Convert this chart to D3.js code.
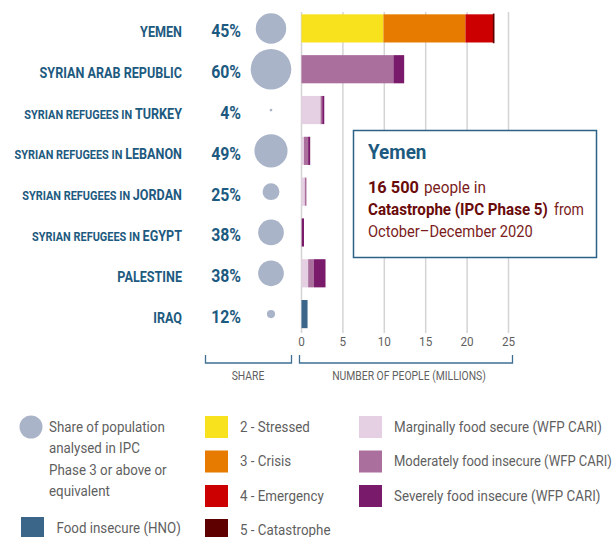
<!DOCTYPE html>
<html>
<head>
<meta charset="utf-8">
<script src="https://cdn.jsdelivr.net/npm/d3@7"></script>
<style>
  html, body { margin: 0; padding: 0; background: #fff; }
  svg { display: block; }
  text { font-family: "Roboto", "Noto Sans", sans-serif; }
</style>
</head>
<body>
<svg id="chart" width="614" height="537"></svg>
<script>
// Row labels: a smaller prefix and the emphasised place name
const categories = ["Yemen", "Syrian Arab Republic", "Syrian refugees in Turkey", "Syrian refugees in Lebanon",
  "Syrian refugees in Jordan", "Syrian refugees in Egypt", "Palestine", "Iraq"];
const labelPrefix = ["", "", "SYRIAN REFUGEES IN ", "SYRIAN REFUGEES IN ", "SYRIAN REFUGEES IN ", "SYRIAN REFUGEES IN ", "", ""];
const labelName = ["YEMEN", "SYRIAN ARAB REPUBLIC", "TURKEY", "LEBANON", "JORDAN", "EGYPT", "PALESTINE", "IRAQ"];

// Share of analysed population in IPC Phase 3+ or equivalent (%)
const shares = [45, 60, 4, 49, 25, 38, 38, 12];

// Number of people (millions) by classification
const ipcStressed    = [9.9, 0, 0, 0, 0, 0, 0, 0];
const ipcCrisis      = [9.9, 0, 0, 0, 0, 0, 0, 0];
const ipcEmergency   = [3.4, 0, 0, 0, 0, 0, 0, 0];
const ipcCatastrophe = [0.0165, 0, 0, 0, 0, 0, 0, 0];
const cariMarginal   = [0, 0, 2.3, 0.3, 0.4, 0, 0.8, 0];
const cariModerate   = [0, 11.1, 0.2, 0.5, 0.2, 0.05, 0.7, 0];
const cariSevere     = [0, 1.3, 0.25, 0.25, 0, 0.25, 1.4, 0];
const hnoInsecure    = [0, 0, 0, 0, 0, 0, 0, 0.73];

const xTicks = [0, 5, 10, 15, 20, 25];

const seriesDefs = [
  { key: "stressed", values: ipcStressed, color: "#f8e21e", label: "2 - Stressed" },
  { key: "crisis", values: ipcCrisis, color: "#e77b00", label: "3 - Crisis" },
  { key: "emergency", values: ipcEmergency, color: "#cc0000", label: "4 - Emergency" },
  { key: "catastrophe", values: ipcCatastrophe, color: "#5e0000", label: "5 - Catastrophe" },
  { key: "marginal", values: cariMarginal, color: "#e5cfe2", label: "Marginally food secure (WFP CARI)" },
  { key: "moderate", values: cariModerate, color: "#ab6f9e", label: "Moderately food insecure (WFP CARI)" },
  { key: "severe", values: cariSevere, color: "#7a1a6a", label: "Severely food insecure (WFP CARI)" },
  { key: "hno", values: hnoInsecure, color: "#3c658a", label: "Food insecure (HNO)" }
];

const rows = categories.map((c, i) => {
  const r = { category: c };
  seriesDefs.forEach(s => { r[s.key] = s.values[i]; });
  return r;
});

const BLUE = "#1d5a80";
const GREY_TEXT = "#5f5f5f";
const BUBBLE = "#aab4c8";
const RED_TEXT = "#7a1c1c";
const RED_BOLD = "#6a0b0b";

// Narrow a text horizontally around its anchor point (condensed look)
const condense = (sel, k) => sel.attr("transform", function () {
  const ax = +d3.select(this).attr("x");
  return `translate(${ax},0) scale(${k},1) translate(${-ax},0)`;
});

// Scale a left-anchored text horizontally so that it spans a given width
const fitWidth = (sel) => sel.attr("transform", function (d) {
  const ax = +d3.select(this).attr("x");
  const k = d.w / this.getComputedTextLength();
  return `translate(${ax},0) scale(${k},1) translate(${-ax},0)`;
});

const svg = d3.select("#chart");
const W = +svg.attr("width");

const y = d3.scaleBand().domain(categories).range([8, 334.5]).paddingInner(0.31).paddingOuter(0.155);
const x = d3.scaleLinear().domain([0, 25]).range([301.5, 508.5]);
const r = d3.scaleLinear().domain([0, 60]).range([0, 20.3]);
const yMid = c => y(c) + y.bandwidth() / 2;

// Vertical grid
svg.append("g").selectAll("line").data(xTicks).join("line")
  .attr("x1", d => x(d)).attr("x2", d => x(d))
  .attr("y1", 12).attr("y2", 333)
  .attr("stroke", "#d4d4d4").attr("stroke-width", 1.5);

// Tick labels
svg.append("g").selectAll("text").data(xTicks).join("text")
  .attr("x", d => x(d)).attr("y", 346)
  .attr("text-anchor", "middle")
  .attr("font-size", 13).attr("fill", GREY_TEXT)
  .text(d => d)
  .call(condense, 0.9);

// Stacked bars
const stack = d3.stack().keys(seriesDefs.map(s => s.key));
const stacked = stack(rows);
const colorOf = Object.fromEntries(seriesDefs.map(s => [s.key, s.color]));

svg.append("g").selectAll("g").data(stacked).join("g")
  .attr("fill", d => colorOf[d.key])
  .each(function (layer) {
    d3.select(this).selectAll("rect").data(layer.filter(d => d[1] - d[0] > 0)).join("rect")
      .attr("x", d => x(d[0]))
      .attr("y", d => y(d.data.category))
      .attr("width", d => x(d[1]) - x(d[0]))
      .attr("height", y.bandwidth())
      .attr("stroke", layer.key === "catastrophe" ? colorOf.catastrophe : "none")
      .attr("stroke-width", layer.key === "catastrophe" ? 1.5 : 0);
  });

// Row labels
const lab = svg.append("g").selectAll("text").data(categories).join("text")
  .attr("x", 182)
  .attr("y", d => yMid(d) + 8.5)
  .attr("text-anchor", "end")
  .attr("fill", BLUE)
  .attr("font-weight", "bold")
  .call(condense, 0.84);
lab.append("tspan").attr("font-size", 13).text((d, i) => labelPrefix[i]);
lab.append("tspan").attr("font-size", 15).text((d, i) => labelName[i]);

// Share labels
svg.append("g").selectAll("text").data(shares).join("text")
  .attr("x", 241)
  .attr("y", (d, i) => yMid(categories[i]) + 9)
  .attr("text-anchor", "end")
  .attr("font-size", 18).attr("font-weight", "bold").attr("fill", BLUE)
  .text(d => d + "%")
  .call(condense, 0.88);

// Share bubbles
svg.append("g").selectAll("circle").data(shares).join("circle")
  .attr("cx", 271)
  .attr("cy", (d, i) => yMid(categories[i]))
  .attr("r", d => r(d))
  .attr("fill", BUBBLE);

// Brackets under the axes
const bracket = (x0, x1, cx, text) => {
  svg.append("path")
    .attr("d", `M${x0},355V363H${x1}V355`)
    .attr("fill", "none").attr("stroke", "#3e6f92").attr("stroke-width", 1.3);
  svg.append("text").attr("x", cx).attr("y", 380)
    .attr("text-anchor", "middle").attr("font-size", 12.5).attr("fill", GREY_TEXT)
    .text(text)
    .call(condense, 0.83);
};
bracket(205.5, 291.5, 248, "SHARE");
bracket(299.5, 512.5, 409, "NUMBER OF PEOPLE (MILLIONS)");

// Callout box
const box = svg.append("g");
box.append("rect").attr("x", 353.5).attr("y", 130.5).attr("width", 243).attr("height", 127)
  .attr("fill", "#fff").attr("stroke", "#2c6287").attr("stroke-width", 1.5);
box.append("text").attr("x", 368).attr("y", 159)
  .attr("font-size", 21).attr("font-weight", "bold").attr("fill", BLUE).text("Yemen")
  .call(condense, 0.9);

// Callout lines: each run is placed on its own so bold and regular parts sit side by side
const calloutRuns = [
  { x: 368, y: 193, w: 51, bold: true, text: "16 500" },
  { x: 424, y: 193, w: 62, bold: false, text: "people in" },
  { x: 368, y: 215, w: 180, bold: true, text: "Catastrophe (IPC Phase 5)" },
  { x: 554, y: 215, w: 30, bold: false, text: "from" },
  { x: 368, y: 237, w: 165, bold: false, text: "October\u2013December 2020" }
];
box.selectAll("text.run").data(calloutRuns).join("text")
  .attr("class", "run")
  .attr("x", d => d.x).attr("y", d => d.y)
  .attr("font-size", 17)
  .attr("font-weight", d => d.bold ? "bold" : "normal")
  .attr("fill", d => d.bold ? RED_BOLD : RED_TEXT)
  .text(d => d.text)
  .call(fitWidth);

// Legend
const leg = svg.append("g");
leg.append("circle").attr("cx", 31).attr("cy", 427).attr("r", 11.5).attr("fill", BUBBLE);
["Share of population", "analysed in IPC", "Phase 3 or above or", "equivalent"].forEach((t, i) => {
  leg.append("text").attr("x", 49).attr("y", 432 + i * 21.3)
    .attr("font-size", 14.5).attr("fill", GREY_TEXT).text(t)
    .call(condense, 0.92);
});
const legendItems = [
  { key: "hno", x: 21, y: 517 },
  { key: "stressed", x: 205, y: 416 },
  { key: "crisis", x: 205, y: 450.5 },
  { key: "emergency", x: 205, y: 485 },
  { key: "catastrophe", x: 205, y: 519 },
  { key: "marginal", x: 359, y: 416 },
  { key: "moderate", x: 359, y: 450.5 },
  { key: "severe", x: 359, y: 485 }
];
legendItems.forEach(it => {
  const s = seriesDefs.find(d => d.key === it.key);
  leg.append("rect").attr("x", it.x).attr("y", it.y).attr("width", 23).attr("height", 22).attr("fill", s.color);
  const tx = it.x + (it.key === "hno" ? 35.5 : 35);
  const t = leg.append("text").attr("x", tx).attr("y", it.y + 16)
    .attr("font-size", 14.5).attr("fill", GREY_TEXT).text(s.label);
  // keep the longest label inside the right edge
  const natural = t.node().getComputedTextLength();
  const k = Math.min(0.92, (W - 2 - tx) / natural);
  t.call(condense, k);
});
</script>
</body>
</html>
